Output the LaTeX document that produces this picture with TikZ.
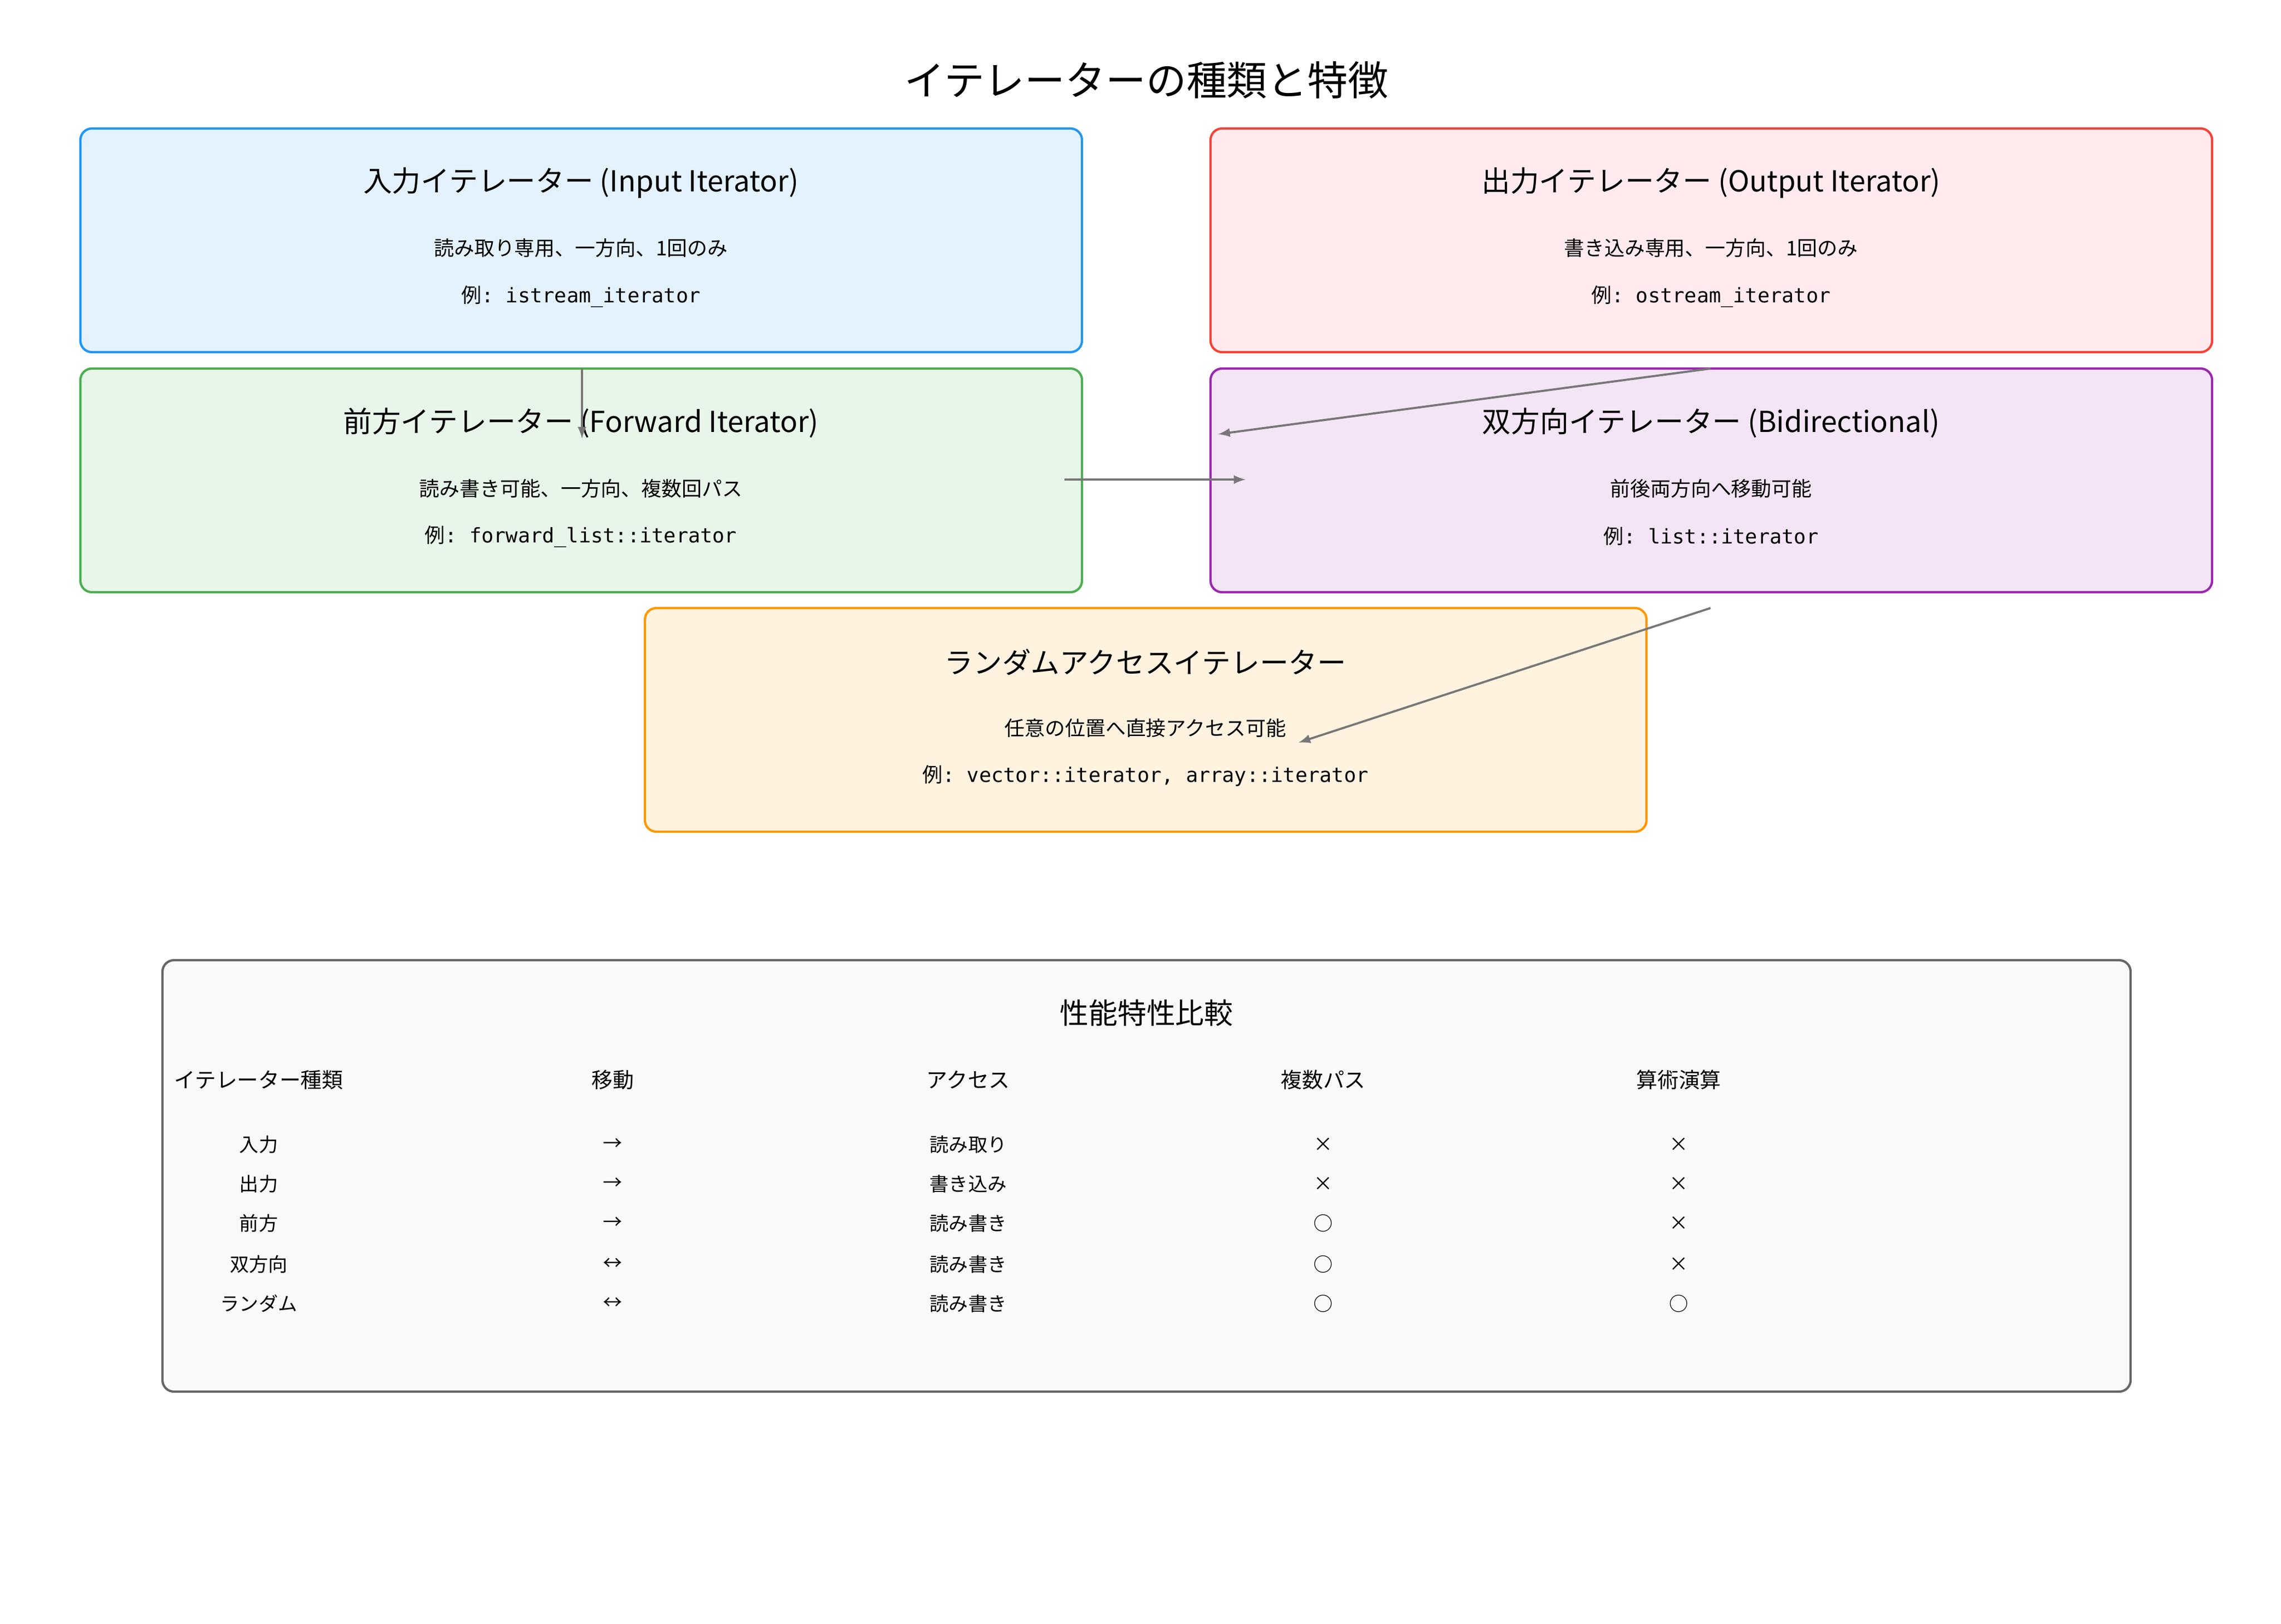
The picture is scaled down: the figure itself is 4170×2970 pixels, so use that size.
\documentclass[tikz,border=0pt]{standalone}
\usepackage{fontspec}
\setmainfont{Noto Sans CJK JP}
\setmonofont{DejaVu Sans Mono}
\newfontfamily\jpfont{Noto Sans CJK JP}
\definecolor{inFill}{HTML}{E3F2FD}\definecolor{inLine}{HTML}{2196F3}
\definecolor{outFill}{HTML}{FFEBEE}\definecolor{outLine}{HTML}{F44336}
\definecolor{fwFill}{HTML}{E8F5E9}\definecolor{fwLine}{HTML}{4CAF50}
\definecolor{biFill}{HTML}{F3E5F5}\definecolor{biLine}{HTML}{9C27B0}
\definecolor{raFill}{HTML}{FFF3E0}\definecolor{raLine}{HTML}{FF9800}
\definecolor{tbFill}{HTML}{F8F9FA}\definecolor{tbLine}{HTML}{666666}
\definecolor{arrGray}{HTML}{777777}
\newcommand{\itbox}[6]{%
\draw[rounded corners=0.21cm,line width=1.2pt,draw=#3,fill=#2] (#1,-235-#4) rectangle ++(1831,-409);
\node[ttl] at (#1+915,-334-#4) {#5};
\node[dsc] at (#1+915,-454-#4) {#6};}
\begin{document}
\begin{tikzpicture}[x=0.01cm,y=0.01cm,
 ttl/.style={font=\fontsize{15}{18}\selectfont},
 dsc/.style={font=\fontsize{10.5}{13}\selectfont},
 exm/.style={font=\fontsize{10.5}{13}\ttfamily},
 hd/.style={font=\fontsize{11}{13}\selectfont},
 cel/.style={font=\fontsize{10}{12}\selectfont},
 conn/.style={-latex,draw=arrGray,line width=1.1pt}]
\useasboundingbox (0,0) rectangle (4170,-2970);
\node[font=\fontsize{21}{25}\selectfont] (title) at (2096,-147) {イテレーターの種類と特徴};

\itbox{147}{inFill}{inLine}{0}{入力イテレーター (Input Iterator)}{読み取り専用、一方向、1回のみ}
\node[exm] (exIn) at (1062,-542) {{\jpfont 例}: istream\_iterator};
\itbox{2213}{outFill}{outLine}{0}{出力イテレーター (Output Iterator)}{書き込み専用、一方向、1回のみ}
\node[exm] (exOut) at (3128,-542) {{\jpfont 例}: ostream\_iterator};
\itbox{147}{fwFill}{fwLine}{439}{前方イテレーター (Forward Iterator)}{読み書き可能、一方向、複数回パス}
\node[exm] (exFw) at (1062,-981) {{\jpfont 例}: forward\_list::iterator};
\itbox{2213}{biFill}{biLine}{439}{双方向イテレーター (Bidirectional)}{前後両方向へ移動可能}
\node[exm] (exBi) at (3128,-981) {{\jpfont 例}: list::iterator};
\itbox{1179}{raFill}{raLine}{877}{ランダムアクセスイテレーター}{任意の位置へ直接アクセス可能}
\node[exm] (exRa) at (2094,-1419) {{\jpfont 例}: vector::iterator, array::iterator};

\coordinate (a1) at (1064,-674); \coordinate (b1) at (1064,-802);
\coordinate (a2) at (1946,-877); \coordinate (b2) at (2277,-877);
\coordinate (a3) at (3127,-674); \coordinate (b3) at (2227,-794);
\coordinate (a4) at (3127,-1112); \coordinate (b4) at (2374,-1358);
\draw[conn] (a1) -- (b1);
\draw[conn] (a2) -- (b2);
\draw[conn] (a3) -- (b3);
\draw[conn] (a4) -- (b4);

% comparison table
\draw[rounded corners=0.21cm,line width=1.2pt,draw=tbLine,fill=tbFill] (297,-1756) rectangle (3895,-2545);
\node[ttl] (tblTitle) at (2096,-1852) {性能特性比較};
\node[hd] (h1) at (473,-1975) {イテレーター種類};
\node[hd] (h2) at (1120,-1975) {移動};
\node[hd] (h3) at (1770,-1975) {アクセス};
\node[hd] (h4) at (2419,-1975) {複数パス};
\node[hd] (h5) at (3069,-1975) {算術演算};
\foreach \y/\k/\m/\a/\p/\r in {-2093/入力/→/読み取り/×/×, -2165/出力/→/書き込み/×/×,
  -2237/前方/→/読み書き/○/×, -2312/双方向/↔/読み書き/○/×, -2384/ランダム/↔/読み書き/○/○}{
\node[cel] at (473,\y) {\k};
\node[cel] at (1120,\y) {\m};
\node[cel] at (1770,\y) {\a};
\node[cel] at (2419,\y) {\p};
\node[cel] at (3069,\y) {\r};
}
\end{tikzpicture}
\end{document}
